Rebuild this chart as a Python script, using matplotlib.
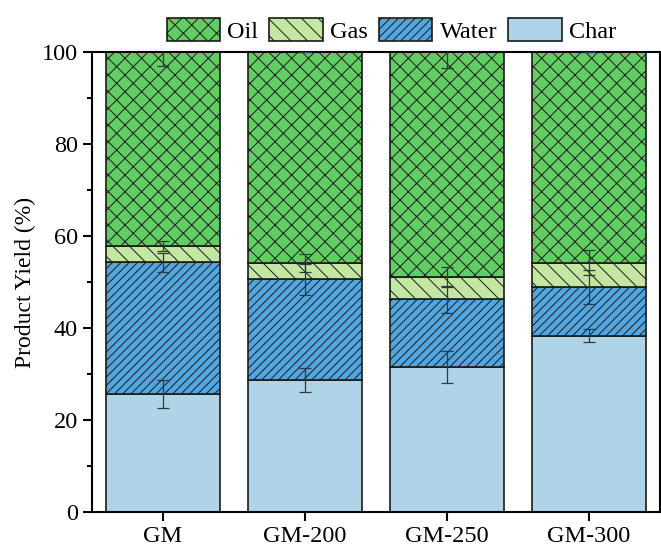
import matplotlib
matplotlib.use('Agg')
import matplotlib.pyplot as plt
import numpy as np

plt.rcParams['font.family'] = ['Liberation Serif', 'DejaVu Serif']
plt.rcParams['hatch.linewidth'] = 0.7

# =============================================================================
# Product yields (%), stacked from bottom
# =============================================================================
samples = ['GM', 'GM-200', 'GM-250', 'GM-300']
char = [25.6, 28.7, 31.5, 38.3]
water = [28.7, 21.9, 14.7, 10.6]
gas = [3.5, 3.5, 4.8, 5.3]
oil = [42.2, 45.9, 49.0, 45.8]

char_err = [3.0, 2.7, 3.5, 1.45]
water_err = [2.1, 3.4, 3.0, 3.7]
gas_err = [1.1, 1.9, 2.2, 2.7]
oil_err = [3.1, 0.0, 3.5, 0.0]

layers = [
    ('Char', char, char_err, '#b0d4e7', ''),
    ('Water', water, water_err, '#52a6e0', '////'),
    ('Gas', gas, gas_err, '#c3e6a2', '\\\\'),
    ('Oil', oil, oil_err, '#62cd62', 'xx'),
]

fig = plt.figure(figsize=(6.61, 5.47), dpi=100)
ax = fig.add_axes([0.1392, 0.064, 0.8593, 0.841])

x = np.arange(len(samples))
bottom = np.zeros(len(samples))
handles = {}
for name, vals, errs, color, hatch in layers:
    vals = np.array(vals)
    bars = ax.bar(x, vals, 0.8, bottom=bottom, color=color,
                  edgecolor='#1a1a1a', linewidth=1.2, hatch=hatch,
                  label=name, zorder=2)
    handles[name] = bars
    top = bottom + vals
    ax.errorbar(x, top, yerr=errs, fmt='none', ecolor='#2b3a45',
                elinewidth=0.9, capsize=4, capthick=0.9, zorder=3)
    bottom = top

ax.set_xlim(-0.5, 3.5)
ax.set_ylim(0, 100)
ax.set_xticks(x)
ax.set_xticklabels(samples)
ax.set_yticks(range(0, 101, 20))
ax.set_yticks(range(10, 100, 20), minor=True)
ax.set_ylabel('Product Yield (%)', fontsize=17)
ax.tick_params(axis='both', which='major', labelsize=17.5, direction='out',
               length=6.5, width=1.5)
ax.tick_params(axis='y', which='minor', direction='out', length=3.5,
               width=1.5)
for s in ax.spines.values():
    s.set_linewidth(1.5)

order = ['Oil', 'Gas', 'Water', 'Char']
fig.legend([handles[k] for k in order], order, loc='center',
           bbox_to_anchor=(0.592, 0.945), ncol=4, frameon=False,
           fontsize=17.5, handlelength=2.2, handleheight=1.1,
           handletextpad=0.3, columnspacing=0.45, borderaxespad=0)

fig.savefig('out.png', dpi=100)
